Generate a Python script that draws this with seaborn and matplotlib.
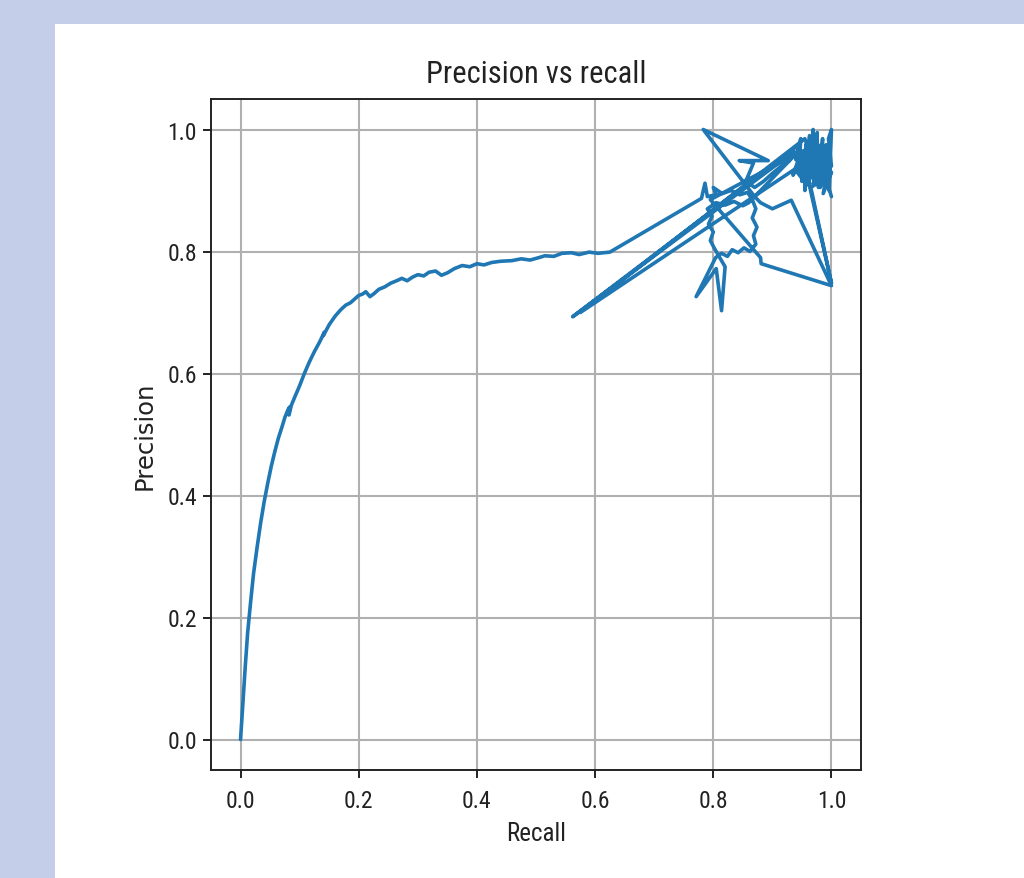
import matplotlib
matplotlib.use("Agg")
import matplotlib.pyplot as plt
from matplotlib.patches import Rectangle
import seaborn as sns

# smooth part of the precision / recall trace
recall_smooth = [0.000, 0.004, 0.008, 0.012, 0.017, 0.022, 0.028, 0.034, 0.040, 0.046,
                 0.052, 0.058, 0.064, 0.070, 0.075, 0.080, 0.083, 0.082, 0.086, 0.092,
                 0.100, 0.108, 0.116, 0.125, 0.134, 0.142, 0.140, 0.150, 0.160, 0.170,
                 0.178, 0.186, 0.193, 0.200, 0.206, 0.212, 0.219, 0.226, 0.234, 0.244,
                 0.254, 0.264, 0.273, 0.282, 0.291, 0.300, 0.310, 0.319, 0.330, 0.340,
                 0.350, 0.362, 0.375, 0.388, 0.400, 0.412, 0.425, 0.440, 0.459, 0.475,
                 0.490, 0.505, 0.515, 0.530, 0.544, 0.560, 0.573, 0.590, 0.605, 0.625]
precision_smooth = [0.000, 0.060, 0.120, 0.175, 0.225, 0.272, 0.315, 0.355, 0.390, 0.420,
                    0.448, 0.472, 0.494, 0.512, 0.528, 0.540, 0.545, 0.532, 0.548, 0.562,
                    0.580, 0.600, 0.618, 0.636, 0.652, 0.668, 0.662, 0.680, 0.694, 0.705,
                    0.712, 0.716, 0.722, 0.728, 0.730, 0.734, 0.726, 0.731, 0.738, 0.742,
                    0.748, 0.752, 0.756, 0.752, 0.758, 0.762, 0.760, 0.766, 0.768, 0.761,
                    0.765, 0.772, 0.777, 0.775, 0.780, 0.778, 0.782, 0.784, 0.785, 0.788,
                    0.786, 0.790, 0.793, 0.792, 0.797, 0.798, 0.795, 0.799, 0.797, 0.799]

# loop-shaped blob around recall 0.8-0.88
recall_blob = [0.780, 0.786, 0.790, 0.805, 0.800, 0.815, 0.830, 0.845, 0.858, 0.866,
               0.872, 0.866, 0.874, 0.868, 0.872, 0.862, 0.852, 0.842, 0.832, 0.824,
               0.814, 0.804, 0.771, 0.805, 0.814, 0.820, 0.802, 0.795, 0.800, 0.792,
               0.798, 0.790, 0.805, 0.820, 0.835, 0.850, 0.860, 0.940, 0.795, 0.880,
               0.881, 1.000, 0.932, 0.900, 0.880, 0.870]
precision_blob = [0.887, 0.912, 0.890, 0.893, 0.905, 0.895, 0.900, 0.893, 0.897, 0.885,
                  0.870, 0.855, 0.840, 0.826, 0.812, 0.800, 0.806, 0.798, 0.803, 0.792,
                  0.797, 0.790, 0.726, 0.772, 0.703, 0.775, 0.805, 0.818, 0.832, 0.845,
                  0.858, 0.870, 0.880, 0.876, 0.882, 0.875, 0.880, 0.960, 0.885, 0.790,
                  0.780, 0.744, 0.884, 0.870, 0.880, 0.890]

# apex at full precision and the bridge into the dense cluster
recall_bridge = [0.783, 0.893, 0.844, 0.868, 0.855, 0.870, 0.885, 0.900, 0.915, 0.928,
                 0.937, 0.562, 0.945]
precision_bridge = [1.000, 0.949, 0.949, 0.945, 0.915, 0.905, 0.915, 0.928, 0.940, 0.948,
                    0.964, 0.693, 0.975]

# dense cluster near recall 1
recall_cluster = [0.940, 0.948, 0.945, 0.952, 0.950, 0.957, 0.955, 0.960, 0.958, 0.963,
                  0.962, 0.967, 0.965, 0.969, 0.970, 0.973, 0.972, 0.976, 0.975, 0.979,
                  0.978, 0.982, 0.981, 0.985, 0.984, 0.988, 0.987, 0.991, 0.990, 0.994,
                  0.993, 0.997, 0.996, 1.000, 0.995, 1.000, 0.985, 0.970, 0.955, 0.942,
                  0.935, 0.948, 0.962, 0.976, 0.990, 0.998, 0.965, 1.000, 0.963, 0.950,
                  0.938, 0.575, 0.955, 0.960, 0.953, 0.966, 0.959, 0.971, 0.964, 0.977,
                  0.969, 0.983, 0.976, 0.989, 0.981, 0.994, 0.986, 1.000, 0.992, 1.000]
precision_cluster = [0.950, 0.985, 0.930, 0.965, 0.915, 0.975, 0.900, 0.955, 0.925, 0.990,
                     0.910, 0.970, 0.935, 1.000, 0.920, 0.980, 0.945, 0.995, 0.925, 0.965,
                     0.905, 0.975, 0.940, 0.985, 0.920, 0.960, 0.930, 0.975, 0.910, 0.950,
                     0.925, 0.965, 0.900, 1.000, 0.985, 0.940, 0.955, 0.945, 0.940, 0.945,
                     0.925, 0.955, 0.965, 0.950, 0.940, 0.925, 0.905, 0.748, 0.907, 0.920,
                     0.935, 0.700, 0.985, 0.970, 0.945, 0.960, 0.930, 0.955, 0.920, 0.945,
                     0.910, 0.950, 0.915, 0.945, 0.905, 0.935, 0.895, 0.930, 0.915, 0.890]

recall = recall_smooth + recall_blob + recall_bridge + recall_cluster
precision = precision_smooth + precision_blob + precision_bridge + precision_cluster

sns.set_theme(style="ticks")
plt.rcParams["font.family"] = ["Roboto Condensed", "DejaVu Sans"]
plt.rcParams["font.weight"] = "normal"
plt.rcParams["axes.titleweight"] = "normal"
plt.rcParams["axes.labelweight"] = "normal"
plt.rcParams["axes.linewidth"] = 1.4
plt.rcParams["xtick.major.width"] = 1.4
plt.rcParams["ytick.major.width"] = 1.4

W, H = 1024, 879
fig = plt.figure(figsize=(W / 100, H / 100), dpi=100, facecolor="#c4cee9")
fig.patches.append(Rectangle((55 / W, 0), 1 - 55 / W, 1 - 25 / H,
                             transform=fig.transFigure, facecolor="white",
                             edgecolor="none", zorder=-10))
ax = fig.add_axes([211 / W, 1 - 771 / H, 650 / W, 671 / H])
ax.set_zorder(1)

sns.lineplot(x=recall, y=precision, sort=False, estimator=None, ax=ax,
             color="#1f77b4", linewidth=2.6)

ax.set_xlim(-0.05, 1.05)
ax.set_ylim(-0.05, 1.05)
ax.set_xticks([0.0, 0.2, 0.4, 0.6, 0.8, 1.0])
ax.set_yticks([0.0, 0.2, 0.4, 0.6, 0.8, 1.0])
ax.grid(True, color="#b0b0b0", linewidth=1.5)
ax.set_axisbelow(True)
for s in ax.spines.values():
    s.set_color("#222222")
ax.tick_params(axis="both", length=6, labelsize=17, colors="#222222")
ax.tick_params(axis="x", pad=8)
ax.tick_params(axis="y", pad=4)

ax.set_title("Precision vs recall", fontsize=22, pad=12, color="#222222",
             fontweight="normal")
ax.set_xlabel("Recall", fontsize=18, color="#222222", labelpad=6)
ax.set_ylabel("Precision", fontsize=17.5, color="#222222", family="DejaVu Sans",
              labelpad=8)

fig.savefig("out.png", dpi=100, facecolor=fig.get_facecolor())
